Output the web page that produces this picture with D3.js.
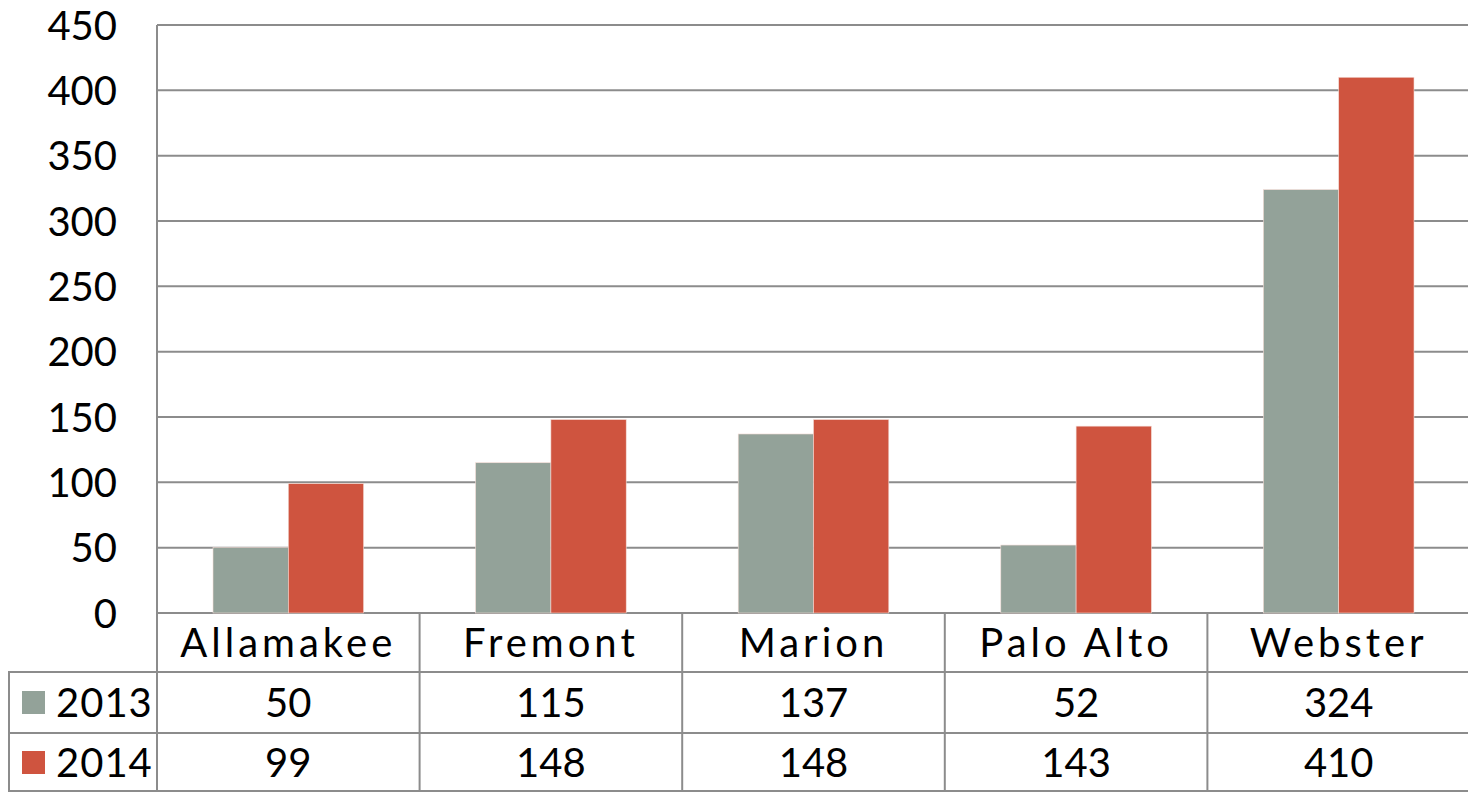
<!DOCTYPE html>
<html>
<head>
<meta charset="utf-8">
<script src="https://cdn.jsdelivr.net/npm/d3@7"></script>
<style>
  body { margin: 0; background: #fff; }
  svg { display: block; font-family: "Century Gothic", "Lato", sans-serif; }
</style>
</head>
<body>
<svg id="chart" width="1468" height="792"></svg>
<script>
var categories = ["Allamakee", "Fremont", "Marion", "Palo Alto", "Webster"];
var seriesNames = ["2013", "2014"];
var values2013 = [50, 115, 137, 52, 324];
var values2014 = [99, 148, 148, 143, 410];
var yTicks = [0, 50, 100, 150, 200, 250, 300, 350, 400, 450];

var colors = ["#93a299", "#cf543f"];
var gridColor = "#8c8c8c";
var series = [values2013, values2014];

var svg = d3.select("#chart");
var plotLeft = 157, plotRight = 1470, plotTop = 25, plotBottom = 613;
var rowH = [613, 672, 733, 792];

var x = d3.scaleBand().domain(categories).range([plotLeft, plotRight]).paddingInner(0).paddingOuter(0);
var x1 = d3.scaleBand().domain(seriesNames).range([56, x.bandwidth() - 56]);
var y = d3.scaleLinear().domain([0, 450]).range([plotBottom, plotTop]);

// gridlines
svg.append("g").selectAll("line").data(yTicks).enter().append("line")
    .attr("x1", plotLeft).attr("x2", plotRight)
    .attr("y1", d => y(d)).attr("y2", d => y(d))
    .attr("stroke", gridColor).attr("stroke-width", 2);

// y axis labels
var yAxis = svg.append("g")
    .attr("transform", "translate(117,0)")
    .call(d3.axisLeft(y).tickValues(yTicks).tickSize(0).tickPadding(0));
yAxis.select(".domain").remove();
yAxis.selectAll("text")
    .attr("font-size", "40px")
    .attr("fill", "#000")
    .attr("dy", "0.35em");
yAxis.attr("font-family", null).attr("font-size", null);

// bars
series.forEach(function(vals, s) {
  svg.append("g").selectAll("rect").data(vals).enter().append("rect")
      .attr("x", (d, i) => x(categories[i]) + x1(seriesNames[s]))
      .attr("y", d => y(d))
      .attr("width", x1.bandwidth())
      .attr("height", d => plotBottom - y(d))
      .attr("fill", colors[s])
      .attr("stroke", "#f4dcd6")
      .attr("stroke-width", 0.6);
});

// data table lines
var t = svg.append("g").attr("stroke", gridColor).attr("stroke-width", 2);
// vertical plot axis
t.append("line").attr("x1", plotLeft).attr("x2", plotLeft).attr("y1", plotTop).attr("y2", 792);
// category separators
categories.forEach(function(c, i) {
  if (i > 0) t.append("line").attr("x1", x(c)).attr("x2", x(c)).attr("y1", plotBottom).attr("y2", 792);
});
// horizontal row lines
t.append("line").attr("x1", 8).attr("x2", plotRight).attr("y1", rowH[1]).attr("y2", rowH[1]);
t.append("line").attr("x1", 8).attr("x2", plotRight).attr("y1", rowH[2]).attr("y2", rowH[2]);
t.append("line").attr("x1", 8).attr("x2", plotRight).attr("y1", 791).attr("y2", 791);
t.append("line").attr("x1", 9).attr("x2", 9).attr("y1", rowH[1]).attr("y2", 792);

// category labels
svg.append("g").selectAll("text").data(categories).enter().append("text")
    .attr("x", d => x(d) + x.bandwidth() / 2)
    .attr("y", (rowH[0] + rowH[1]) / 2)
    .attr("dy", "0.35em")
    .attr("text-anchor", "middle")
    .attr("font-size", "40px")
    .attr("letter-spacing", "4px")
    .text(d => d);

// series rows
series.forEach(function(vals, s) {
  var cy = (rowH[s + 1] + rowH[s + 2]) / 2;
  svg.append("rect")
      .attr("x", 22).attr("y", cy - 11.5)
      .attr("width", 23).attr("height", 23)
      .attr("fill", colors[s]);
  svg.append("text")
      .attr("x", 56).attr("y", cy).attr("dy", "0.35em")
      .attr("font-size", "40px")
      .attr("letter-spacing", "1px")
      .text(seriesNames[s]);
  svg.append("g").selectAll("text").data(vals).enter().append("text")
      .attr("x", (d, i) => x(categories[i]) + x.bandwidth() / 2)
      .attr("y", cy).attr("dy", "0.35em")
      .attr("text-anchor", "middle")
      .attr("font-size", "40px")
      .text(d => d);
});
</script>
</body>
</html>
